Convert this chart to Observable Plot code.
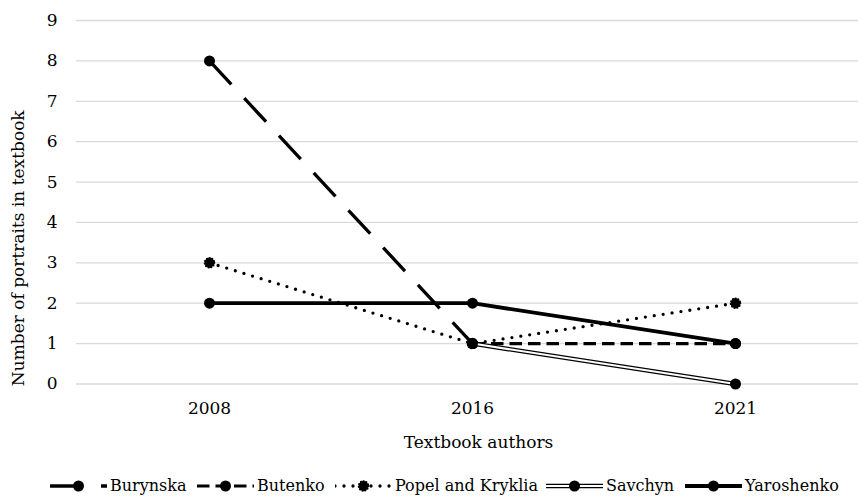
<!DOCTYPE html>
<html><head><meta charset="utf-8">
<script src="https://cdn.jsdelivr.net/npm/d3@7"></script>
<script src="https://cdn.jsdelivr.net/npm/@observablehq/plot@0.6"></script>
<style>
body{margin:0;background:#fff;font-family:"DejaVu Serif",serif;}
#chart svg{display:block}
#legend{position:relative;height:29px;font-size:16px;color:#000;white-space:nowrap}
.sample{position:absolute;top:6px;display:block}
.label{position:absolute;top:3px;line-height:22px}
</style></head><body>
<div id="chart"></div><div id="legend"></div>
<script>
const years = ["2008", "2016", "2021"];
const seriesNames = ["Burynska", "Butenko", "Popel and Kryklia", "Savchyn", "Yaroshenko"];
const burynska = [8, 1, null];
const butenko = [null, 1, 1];
const popel = [3, 1, 2];
const savchyn = [null, 1, 0];
const yaroshenko = [2, 2, 1];
const yTicks = [0, 1, 2, 3, 4, 5, 6, 7, 8, 9];
const xTitle = "Textbook authors";
const yTitle = "Number of portraits in textbook";

const values = [burynska, butenko, popel, savchyn, yaroshenko];
const styles = {
  "Burynska": {strokeWidth: 3.3, strokeDasharray: "32,19", strokeLinecap: "butt"},
  "Butenko": {strokeWidth: 3.2, strokeDasharray: "12.5,6", strokeLinecap: "butt"},
  "Popel and Kryklia": {strokeWidth: 3.3, strokeDasharray: "0,9", strokeLinecap: "round"},
  "Savchyn": {strokeWidth: 4.5, strokeDasharray: null, strokeLinecap: "butt", inner: 2},
  "Yaroshenko": {strokeWidth: 3.8, strokeDasharray: null, strokeLinecap: "butt"}
};
const legendTextX = [110, 257, 395, 606, 745];

const rows = [];
seriesNames.forEach((s, i) => years.forEach((y, j) => rows.push({series: s, year: y, value: values[i][j]})));

const seriesMarks = [];
seriesNames.forEach(s => {
  const st = styles[s];
  const d = rows.filter(r => r.series === s);
  seriesMarks.push(Plot.line(d, {x: "year", y: "value", stroke: "black", strokeWidth: st.strokeWidth,
    strokeDasharray: st.strokeDasharray || undefined, strokeLinecap: st.strokeLinecap, strokeLinejoin: "round"}));
  if (st.inner) seriesMarks.push(Plot.line(d, {x: "year", y: "value", stroke: "white", strokeWidth: st.inner}));
  const dd = d.filter(r => r.value != null);
  if (s === "Popel and Kryklia") {
    seriesMarks.push(Plot.dot(dd, {x: "year", y: "value", r: 4.5, fill: "black", stroke: "black", strokeWidth: 2.6, strokeDasharray: "0,2.6", strokeLinecap: "round"}));
  } else {
    seriesMarks.push(Plot.dot(dd, {x: "year", y: "value", r: 5.5, fill: "black", stroke: "none"}));
  }
});

const chart = Plot.plot({
  width: 858, height: 472,
  marginLeft: 76, marginRight: 0, marginTop: 20, marginBottom: 88.5,
  style: {fontFamily: "DejaVu Serif, serif", fontSize: "17px", color: "black", background: "white"},
  x: {type: "point", domain: years, range: [208, 735], padding: 0},
  y: {domain: [0, 9]},
  marks: [
    Plot.ruleY(yTicks, {stroke: "#d9d9d9", strokeWidth: 1.3}),
    Plot.axisY(yTicks, {tickSize: 0, tickPadding: 19, label: null, fontSize: 17}),
    Plot.axisX({tickSize: 0, tickPadding: 18, label: null, fontSize: 17}),
    Plot.text([yTitle], {frameAnchor: "left", textAnchor: "middle", lineAnchor: "middle", rotate: -90, dx: -58, dy: 46, fontSize: 17, fill: "black"}),
    Plot.text([xTitle], {frameAnchor: "bottom", textAnchor: "middle", lineAnchor: "middle", dx: 11, dy: 59, fontSize: 17, fill: "black"}),
    ...seriesMarks
  ]
});
document.getElementById("chart").appendChild(chart);

// legend
const legend = d3.select("#legend");
seriesNames.forEach((s, i) => {
  const st = styles[s];
  const W = 57, H = 16;
  const tx = legendTextX[i];
  const svg = legend.append("svg").attr("class", "sample").style("left", (tx - W - 3) + "px").attr("width", W).attr("height", H);
  svg.append("line").attr("x1", 0).attr("x2", W).attr("y1", H / 2).attr("y2", H / 2)
    .attr("stroke", "black").attr("stroke-width", st.strokeWidth)
    .attr("stroke-dasharray", st.strokeDasharray).attr("stroke-linecap", st.strokeLinecap);
  if (st.inner) svg.append("line").attr("x1", 0).attr("x2", W).attr("y1", H / 2).attr("y2", H / 2)
    .attr("stroke", "white").attr("stroke-width", st.inner);
  if (s === "Popel and Kryklia") {
    svg.append("circle").attr("cx", W / 2).attr("cy", H / 2).attr("r", 4.5).attr("fill", "black")
      .attr("stroke", "black").attr("stroke-width", 2.6).attr("stroke-dasharray", "0,2.6").attr("stroke-linecap", "round");
  } else {
    svg.append("circle").attr("cx", W / 2).attr("cy", H / 2).attr("r", 5.5).attr("fill", "black");
  }
  legend.append("span").attr("class", "label").style("left", tx + "px").text(s);
});
</script>
</body></html>
